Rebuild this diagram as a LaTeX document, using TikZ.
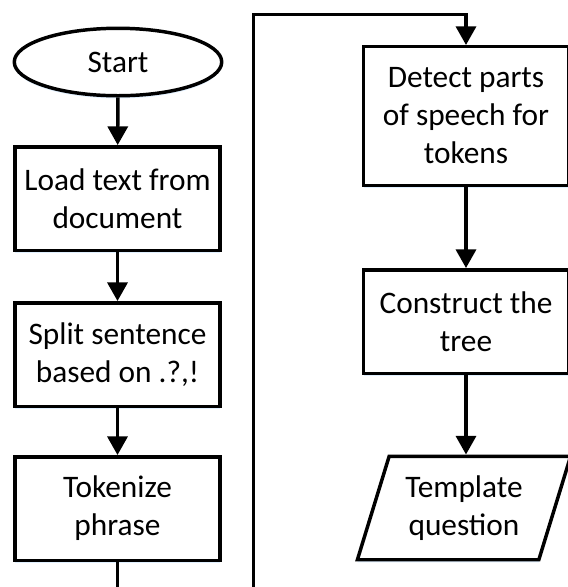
\documentclass[tikz,border=0pt]{standalone}
\usepackage{fontspec}
\setmainfont{Carlito}
\usetikzlibrary{shapes.geometric,arrows.meta,shadows}

\begin{document}
\begin{tikzpicture}[x=0.75pt,y=-0.75pt,
  every node/.style={font=\fontsize{23.5}{28.5}\selectfont, align=center, inner sep=0pt},
  soft/.style={drop shadow={shadow xshift=0pt, shadow yshift=-2pt, fill=blue!50!cyan, opacity=0.12}},
  stepbox/.style={draw, line width=2.6pt, fill=white, rectangle, soft,
    minimum width=153.75pt, minimum height=77.6pt},
  startbox/.style={draw, line width=2.6pt, fill=white, ellipse, soft,
    minimum width=155.6pt, minimum height=50.6pt},
  iobox/.style={draw, line width=2.6pt, fill=white, trapezium, soft,
    trapezium left angle=69, trapezium right angle=111, trapezium stretches=true,
    minimum width=160pt, minimum height=77.6pt},
  flow/.style={line width=2.6pt, line join=miter, -{Triangle[length=14pt,width=15pt]}}]

\useasboundingbox (0,0) rectangle (568,587);
\clip (0,0) rectangle (568,587);

% left column
\node[startbox] (start) at (118,62) {Start};
\node[stepbox] (load) at (117.5,198.5) {Load text from\\document};
\node[stepbox] (split) at (117.5,354.5) {Split sentence\\based on .?,!};
\node[stepbox] (tok) at (117.5,508.5) {Tokenize\\phrase};

% right column
\node[stepbox, minimum height=103.9pt] (det) at (466,116) {Detect parts\\of speech for\\tokens};
\node[stepbox] (con) at (466,321.5) {Construct the\\tree};
\node[iobox] (tpl) at (464,508) {Template\\question};

% connectors
\draw[flow] (start) -- (load);
\draw[flow] (load) -- (split);
\draw[flow] (split) -- (tok);
\coordinate (lowturn) at (253.5,640);
\coordinate (topturn) at (253.5,14.5);
\draw[flow] (tok.south) |- (lowturn) -- (topturn) -| (det.north);
\draw[flow] (det) -- (con);
\draw[flow] (con.south) -- (con.south |- tpl.north);
\end{tikzpicture}
\end{document}
